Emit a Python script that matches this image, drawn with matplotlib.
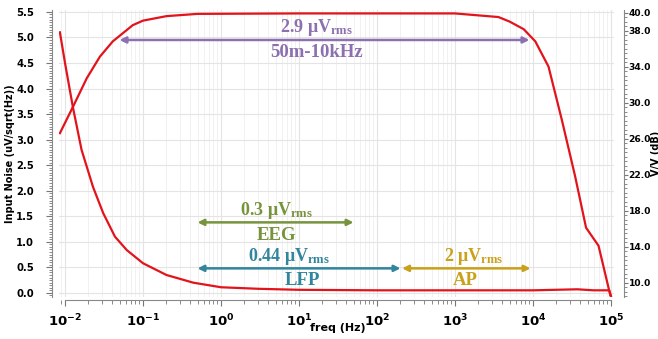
import matplotlib
matplotlib.use("Agg")
import matplotlib.pyplot as plt
from matplotlib.ticker import MultipleLocator, LogLocator, NullFormatter, FuncFormatter, FixedFormatter
import numpy as np

plt.rcParams['font.family'] = ['DejaVu Sans']
plt.rcParams['font.weight'] = 'bold'
plt.rcParams['axes.labelweight'] = 'bold'
plt.rcParams['mathtext.fontset'] = 'custom'
plt.rcParams['mathtext.rm'] = 'Liberation Serif:bold'
plt.rcParams['mathtext.it'] = 'Liberation Serif:bold'
plt.rcParams['mathtext.bf'] = 'Liberation Serif:bold'
plt.rcParams['mathtext.sf'] = 'DejaVu Sans:bold'

# input-referred noise (uV/sqrt(Hz)), left axis
noise_freq = [0.0086, 0.01, 0.0126, 0.0163, 0.0229, 0.0309, 0.0437, 0.0617,
              0.1, 0.2, 0.44, 1, 3, 10, 100, 1000, 10000, 37000, 60000, 95000, 100000]
noise_val = [5.1, 4.5, 3.64, 2.8, 2.07, 1.56, 1.1, 0.84,
             0.58, 0.35, 0.2, 0.11, 0.08, 0.06, 0.05, 0.05, 0.05, 0.07, 0.05, 0.05, -0.06]

# gain (dB), right axis
gain_freq = [0.0086, 0.0126, 0.019, 0.028, 0.041, 0.074, 0.1, 0.2, 0.5, 10, 1000,
             3600, 5000, 7600, 10700, 15800, 23400, 34700, 47900, 69200, 98000]
gain_db = [26.6, 29.5, 32.7, 35.1, 36.8, 38.6, 39.1, 39.6, 39.85, 39.9, 39.9,
           39.5, 39.0, 38.15, 36.8, 34.0, 28.1, 21.8, 16.1, 14.1, 8.6]

left_ticks = [0.0, 0.5, 1.0, 1.5, 2.0, 2.5, 3.0, 3.5, 4.0, 4.5, 5.0, 5.5]
right_ticks = [10, 14, 18, 22, 26, 30, 34, 38, 40]
x_ticks = [1e-2, 1e-1, 1, 10, 100, 1e3, 1e4, 1e5]

# integrated noise bands: (f_lo, f_hi, y, color, rms text, y_rms, x_rms, name, y_name, x_name)
bands = [
    (0.05, 9000, 4.95, '#8c70b0', r'2.9 μV$_{\mathrm{rms}}$', 5.19, 17, '50m-10kHz', 4.70, 17),
    (0.5, 50, 1.38, '#77933c', r'0.3 μV$_{\mathrm{rms}}$', 1.62, 5.2, 'EEG', 1.12, 5.2),
    (0.5, 200, 0.48, '#31859c', r'0.44 μV$_{\mathrm{rms}}$', 0.71, 7.4, 'LFP', 0.25, 11),
    (210, 9300, 0.48, '#c9a11a', r'2 μV$_{\mathrm{rms}}$', 0.71, 1740, 'AP', 0.25, 1350),
]

red = '#e3131b'

fig = plt.figure(figsize=(6.58, 3.39), dpi=100)
ax = fig.add_axes([0.0897, 0.124, 0.8433, 0.847])
ax2 = ax.twinx()

ax.plot(noise_freq, noise_val, color=red, lw=1.6, zorder=3)
ax2.plot(gain_freq, gain_db, color=red, lw=1.6, zorder=3)

ax.set_xscale('log')
ax.set_xlim(0.00838, 1.09e5)
ax.set_ylim(-0.08, 5.54)
ax2.set_ylim(8.41, 40.3)

# spines first (moving a spine resets its ticks)
for a in (ax, ax2):
    a.spines['top'].set_visible(False)
ax.spines['right'].set_visible(False)
ax2.spines['left'].set_visible(False)
ax2.spines['bottom'].set_visible(False)
ax.spines['bottom'].set_position(('outward', 2))
ax.spines['bottom'].set_bounds(1e-2, 1e5)
ax.spines['left'].set_position(('outward', 5))
ax2.spines['right'].set_position(('outward', 7))
for s in (ax.spines['left'], ax.spines['bottom'], ax2.spines['right']):
    s.set_color('#888888')
    s.set_linewidth(0.8)

ax.set_yticks(left_ticks)
ax.yaxis.set_major_formatter(FixedFormatter(['%.1f' % v for v in left_ticks]))
ax.yaxis.set_minor_locator(MultipleLocator(0.05))
ax2.set_yticks(right_ticks)
ax2.yaxis.set_major_formatter(FixedFormatter(['%.1f' % v for v in right_ticks]))
ax2.yaxis.set_minor_locator(MultipleLocator(0.5))
ax.set_xticks(x_ticks)
ax.xaxis.set_major_formatter(FuncFormatter(
    lambda v, p: r'$\mathsf{10^{%d}}$' % int(round(np.log10(v)))))
ax.xaxis.set_minor_locator(LogLocator(base=10, subs=range(2, 10)))
ax.xaxis.set_minor_formatter(NullFormatter())

ax.grid(True, which='major', color='#e4e4e4', lw=0.8)
ax.grid(True, which='minor', axis='x', color='#efefef', lw=0.6)
ax.set_axisbelow(True)

for a in (ax, ax2):
    a.tick_params(which='both', colors='#777777', labelcolor='black')
ax.tick_params(axis='y', which='major', length=4, pad=9, labelsize=7.2)
ax.tick_params(axis='y', which='minor', length=2.5)
ax.tick_params(axis='x', which='major', length=4, pad=5, labelsize=9.5)
ax.tick_params(axis='x', which='minor', length=3)
ax2.tick_params(axis='y', which='major', length=3, pad=0.5, labelsize=6.6)
ax2.tick_params(axis='y', which='minor', length=2)

ax.set_ylabel('Input Noise (uV/sqrt(Hz))', fontsize=7, fontweight='bold', va='center')
ax.yaxis.set_label_coords(-0.088, 0.5)
ax2.set_ylabel('V/V (dB)', fontsize=7, fontweight='bold', va='center')
ax2.yaxis.set_label_coords(1.076, 0.5)
ax.set_xlabel('freq (Hz)', fontsize=8, fontweight='bold', va='center')
ax.xaxis.set_label_coords(0.503, -0.108)

serif = ['Liberation Serif', 'DejaVu Serif']
for lo, hi, y, col, rms, y_rms, x_rms, name, y_name, x_name in bands:
    ax.annotate('', xy=(hi, y), xytext=(lo, y),
                arrowprops=dict(arrowstyle='<|-|>', color=col, lw=1.8,
                                mutation_scale=9, shrinkA=0, shrinkB=0), zorder=4)
    ax.text(x_rms, y_rms, rms, color=col, ha='center', va='center',
            fontsize=13, fontweight='bold', family=serif)
    ax.text(x_name, y_name, name, color=col, ha='center', va='center',
            fontsize=13.5, fontweight='bold', family=serif)

fig.savefig('out.png', dpi=100)
